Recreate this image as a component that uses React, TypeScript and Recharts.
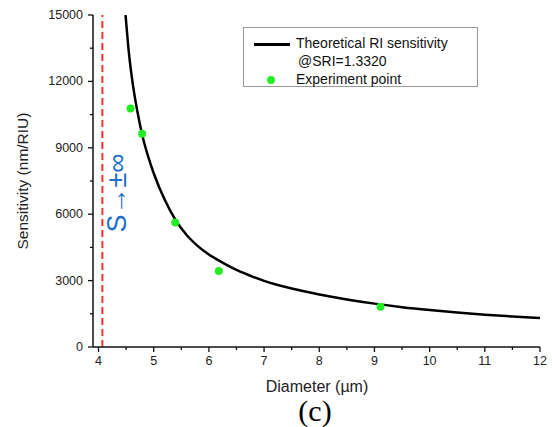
import { ComposedChart, Line, Scatter, XAxis, YAxis, ReferenceLine } from 'recharts';

// theoretical RI sensitivity curve
const curveD = [4.49, 4.55, 4.62, 4.7, 4.8, 4.9, 5.0, 5.2, 5.4, 5.6, 5.8, 6.0, 6.2, 6.5, 6.8, 7.0, 7.5, 8.0, 8.5, 9.0, 9.5, 10.0, 10.5, 11.0, 11.5, 12.0];
const curveS = [15000, 13300, 11900, 10700, 9500, 8600, 7850, 6650, 5720, 5050, 4560, 4180, 3880, 3480, 3170, 2990, 2640, 2370, 2150, 1960, 1800, 1670, 1560, 1460, 1380, 1310];

// experiment points
const pointD = [4.58, 4.79, 5.39, 6.18, 9.11];
const pointS = [10780, 9630, 5620, 3430, 1820];

// cut-off diameter (S -> ±inf)
const asymptoteD = 4.07;

const xTicks = [4, 4.5, 5, 5.5, 6, 6.5, 7, 7.5, 8, 8.5, 9, 9.5, 10, 10.5, 11, 11.5, 12];
const yTicks = [0, 1500, 3000, 4500, 6000, 7500, 9000, 10500, 12000, 13500, 15000];

const curve = curveD.map((d, i) => ({ d, s: curveS[i] }));
const points = pointD.map((d, i) => ({ d, s: pointS[i] }));

const sans = 'Liberation Sans, Arial, sans-serif';

const XTick = (props: any) => {
  const { x, y, payload } = props;
  const v = payload.value;
  const major = Number.isInteger(v);
  return (
    <g>
      <line x1={x} x2={x} y1={y} y2={y + (major ? 5 : 3)} stroke="#111" strokeWidth={1.3} />
      {major && (
        <text x={x} y={y + 18} textAnchor="middle" fontSize={12.5} fill="#222" fontFamily={sans}>
          {v}
        </text>
      )}
    </g>
  );
};

const YTick = (props: any) => {
  const { x, y, payload } = props;
  const v = payload.value;
  const major = v % 3000 === 0;
  return (
    <g>
      <line x1={x - (major ? 5 : 3)} x2={x} y1={y} y2={y} stroke="#111" strokeWidth={1.3} />
      {major && (
        <text x={x - 10} y={y + 4} textAnchor="end" fontSize={12.5} fill="#222" fontFamily={sans}>
          {v}
        </text>
      )}
    </g>
  );
};

export default function App() {
  return (
    <div style={{ position: 'absolute', left: 0, top: 0, width: 552, height: 427, background: '#fff', fontFamily: sans }}>
      <ComposedChart width={552} height={427} margin={{ top: 15, right: 12, left: 0, bottom: 30 }}>
        <XAxis
          dataKey="d"
          type="number"
          domain={[3.9, 12]}
          ticks={xTicks}
          height={50}
          tickSize={0}
          tickMargin={0}
          tick={<XTick />}
          interval={0}
          axisLine={{ stroke: '#111', strokeWidth: 1.5 }}
        />
        <YAxis
          dataKey="s"
          type="number"
          domain={[0, 15000]}
          ticks={yTicks}
          width={93}
          tickSize={0}
          tickMargin={0}
          tick={<YTick />}
          interval={0}
          axisLine={{ stroke: '#111', strokeWidth: 1.5 }}
        />
        <ReferenceLine x={asymptoteD} stroke="#ff3030" strokeWidth={2} strokeDasharray="7 4" />
        <Line data={curve} dataKey="s" type="monotone" dot={false} stroke="#000" strokeWidth={2.5} isAnimationActive={false} />
        <Scatter
          data={points}
          dataKey="s"
          isAnimationActive={false}
          shape={(p: any) => <circle cx={p.cx} cy={p.cy} r={4} fill="#22ee22" />}
        />
      </ComposedChart>

      {/* legend */}
      <div style={{ position: 'absolute', left: 243, top: 27, width: 235, height: 60, border: '1px solid #999', boxSizing: 'border-box' }}>
        <div style={{ position: 'absolute', left: 10, top: 15, width: 36, height: 3, background: '#000' }} />
        <div style={{ position: 'absolute', left: 52, top: 7, fontSize: 14, color: '#111', whiteSpace: 'nowrap' }}>Theoretical RI sensitivity</div>
        <div style={{ position: 'absolute', left: 54, top: 25, fontSize: 14, color: '#111', whiteSpace: 'nowrap' }}>@SRI=1.3320</div>
        <div style={{ position: 'absolute', left: 23, top: 48, width: 8, height: 8, borderRadius: 4, background: '#22ee22' }} />
        <div style={{ position: 'absolute', left: 52, top: 43, fontSize: 14, color: '#111', whiteSpace: 'nowrap' }}>Experiment point</div>
      </div>

      {/* annotation */}
      <div style={{ position: 'absolute', left: 117, top: 193, transform: 'translate(-50%, -50%) rotate(-90deg)', fontSize: 27, color: '#1e6fc8', whiteSpace: 'nowrap', lineHeight: 1 }}>
        S→±∞
      </div>

      {/* axis titles */}
      <div style={{ position: 'absolute', left: 317, top: 387, transform: 'translate(-50%, -50%)', fontSize: 16, color: '#222', whiteSpace: 'nowrap', lineHeight: 1 }}>
        Diameter (µm)
      </div>
      <div style={{ position: 'absolute', left: 23, top: 181, transform: 'translate(-50%, -50%) rotate(-90deg)', fontSize: 15.5, color: '#222', whiteSpace: 'nowrap', lineHeight: 1 }}>
        Sensitivity (nm/RIU)
      </div>
      <div style={{ position: 'absolute', left: 315, top: 411, transform: 'translate(-50%, -50%)', fontSize: 30, color: '#000', whiteSpace: 'nowrap', lineHeight: 1, fontFamily: 'Liberation Serif, Times New Roman, serif' }}>
        (c)
      </div>
    </div>
  );
}
